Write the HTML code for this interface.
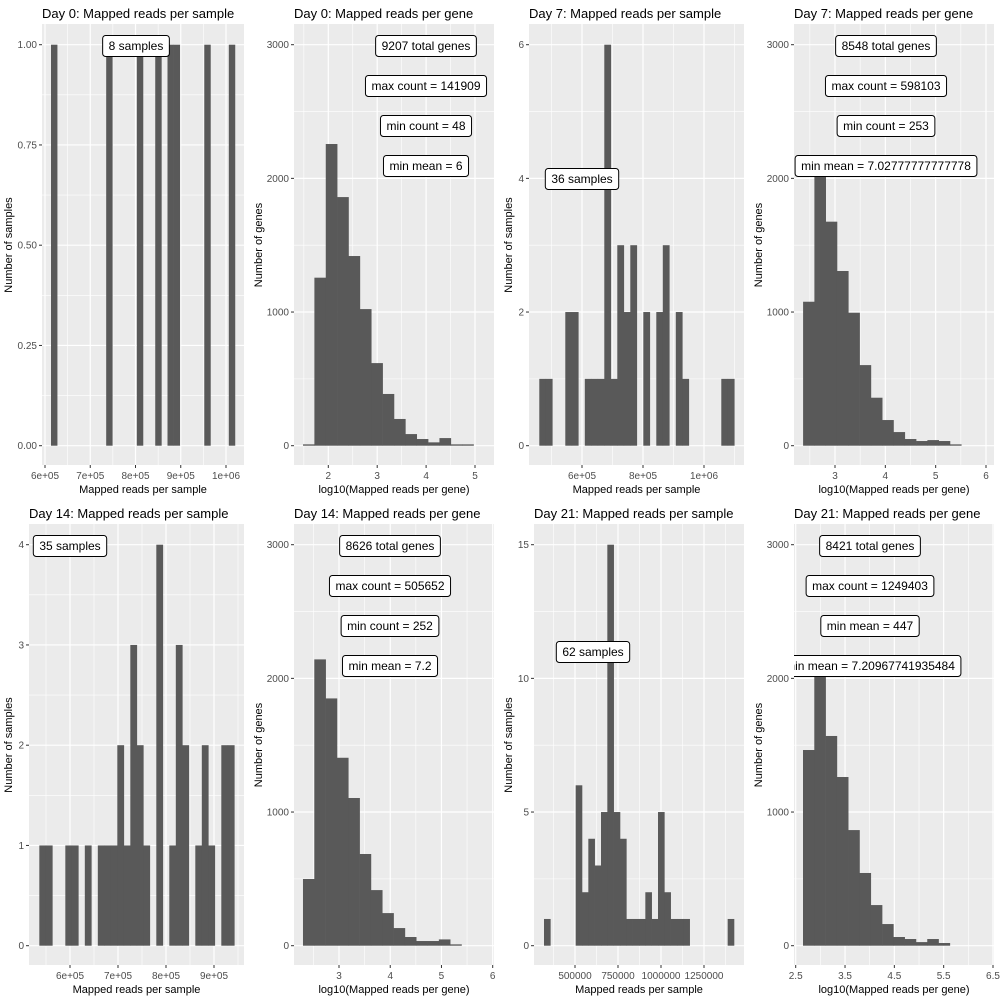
<!DOCTYPE html>
<html><head><meta charset="utf-8">
<style>
html,body{margin:0;padding:0;background:#fff;width:1000px;height:1000px;overflow:hidden;}
svg{display:block;font-family:"Liberation Sans",Arial,sans-serif;}
</style></head>
<body>
<svg id="chart" width="1000" height="1000" viewBox="0 0 1000 1000" xmlns="http://www.w3.org/2000/svg"></svg>
<script>
// ---- data ----
const d0SampleCounts = [1,0,0,0,0,0,0,0,0,1,0,0,0,0,1,0,0,1,0,1,1,0,0,0,0,1,0,0,0,1];
const d0GeneCounts = [10,1257,2257,1860,1419,1022,618,387,200,87,50,25,57,10,10];
const d7SampleCounts = [1,1,0,0,2,2,0,1,1,1,6,1,3,2,3,0,2,0,2,3,0,2,1,0,0,0,0,0,1,1];
const d7GeneCounts = [1077,2120,1676,1307,995,603,359,192,102,50,35,42,35,10];
const d14SampleCounts = [1,1,0,0,1,1,0,1,0,1,1,1,2,1,3,2,1,0,4,0,1,3,2,0,1,2,1,0,2,2];
const d14GeneCounts = [499,2142,1850,1406,1105,686,416,244,132,65,35,35,47,10];
const d21SampleCounts = [1,0,0,0,0,6,2,4,3,5,15,5,4,1,1,1,2,1,5,2,1,1,1,0,0,0,0,0,0,1];
const d21GeneCounts = [1464,2100,1569,1262,865,544,304,162,65,50,27,50,20];
const sampleXTicks1 = [600000,700000,800000,900000,1000000];
const sampleXLabels1 = ["6e+05","7e+05","8e+05","9e+05","1e+06"];
const sampleXTicks3 = [600000,800000,1000000];
const sampleXLabels3 = ["6e+05","8e+05","1e+06"];
const sampleXTicks5 = [600000,700000,800000,900000];
const sampleXLabels5 = ["6e+05","7e+05","8e+05","9e+05"];
const sampleXTicks7 = [500000,750000,1000000,1250000];
const sampleXLabels7 = ["500000","750000","1000000","1250000"];
const geneXTicks2 = [2,3,4,5];
const geneXTicks46 = [3,4,5,6];
const geneXTicks8 = [2.5,3.5,4.5,5.5,6.5];
const geneYTicks = [0,1000,2000,3000];
const d0YTicks = [0,0.25,0.5,0.75,1];
const d0YLabels = ["0.00","0.25","0.50","0.75","1.00"];
const d7YTicks = [0,2,4,6];
const d14YTicks = [0,1,2,3,4];
const d21YTicks = [0,5,10,15];
const d0Labels = ["8 samples"];
const d0GeneLabels = ["9207 total genes","max count = 141909","min count = 48","min mean = 6"];
const d7Labels = ["36 samples"];
const d7GeneLabels = ["8548 total genes","max count = 598103","min count = 253","min mean = 7.02777777777778"];
const d14Labels = ["35 samples"];
const d14GeneLabels = ["8626 total genes","max count = 505652","min count = 252","min mean = 7.2"];
const d21Labels = ["62 samples"];
const d21GeneLabels = ["8421 total genes","max count = 1249403","min mean = 447","min mean = 7.20967741935484"];

const NS = "http://www.w3.org/2000/svg";
const svg = document.getElementById('chart');
function mk(tag, attrs, parent){ const e=document.createElementNS(NS,tag); for(const k in attrs) e.setAttribute(k,attrs[k]); (parent||svg).appendChild(e); return e; }

const panels = [
 {id:'d0-sample',title:'Day 0: Mapped reads per sample',oy:0,l:42,r:244,tx:42,yt:12,xa:[600000,45],xb:[1000000,226],ya:[0,445.7],yb:[1,44.7],start:613260,bw:13550,counts:d0SampleCounts,xt:sampleXTicks1,xl:sampleXLabels1,ytk:d0YTicks,yl:d0YLabels,xtitle:'Mapped reads per sample',ytitle:'Number of samples',labels:d0Labels,lx:136,ly:[46]},
 {id:'d0-gene',title:'Day 0: Mapped reads per gene',oy:0,l:294,r:494,tx:294,yt:262,xa:[2,328.3],xb:[5,475],ya:[0,445.7],yb:[3000,44.7],start:1.483,bw:0.2325,counts:d0GeneCounts,xt:geneXTicks2,xl:geneXTicks2.map(String),ytk:geneYTicks,yl:geneYTicks.map(String),xtitle:'log10(Mapped reads per gene)',ytitle:'Number of genes',labels:d0GeneLabels,lx:426,ly:[46,86,126,166]},
 {id:'d7-sample',title:'Day 7: Mapped reads per sample',oy:0,l:529,r:744,tx:529,yt:512,xa:[600000,582],xb:[1000000,704],ya:[0,445.7],yb:[6,44.7],start:460000,bw:21311,counts:d7SampleCounts,xt:sampleXTicks3,xl:sampleXLabels3,ytk:d7YTicks,yl:d7YTicks.map(String),xtitle:'Mapped reads per sample',ytitle:'Number of samples',labels:d7Labels,lx:582,ly:[179]},
 {id:'d7-gene',title:'Day 7: Mapped reads per gene',oy:0,l:794,r:994,tx:794,yt:762,xa:[3,835],xb:[6,986],ya:[0,445.7],yb:[3000,44.7],start:2.366,bw:0.2245,counts:d7GeneCounts,xt:geneXTicks46,xl:geneXTicks46.map(String),ytk:geneYTicks,yl:geneYTicks.map(String),xtitle:'log10(Mapped reads per gene)',ytitle:'Number of genes',labels:d7GeneLabels,lx:886,ly:[46,86,126,166]},
 {id:'d14-sample',title:'Day 14: Mapped reads per sample',oy:500,l:29,r:244,tx:29,yt:12,xa:[600000,70],xb:[900000,214],ya:[0,445.7],yb:[4,44.7],start:536100,bw:13540,counts:d14SampleCounts,xt:sampleXTicks5,xl:sampleXLabels5,ytk:d14YTicks,yl:d14YTicks.map(String),xtitle:'Mapped reads per sample',ytitle:'Number of samples',labels:d14Labels,lx:70,ly:[46]},
 {id:'d14-gene',title:'Day 14: Mapped reads per gene',oy:500,l:294,r:494,tx:294,yt:262,xa:[3,339],xb:[6,492.7],ya:[0,445.7],yb:[3000,44.7],start:2.297,bw:0.221,counts:d14GeneCounts,xt:geneXTicks46,xl:geneXTicks46.map(String),ytk:geneYTicks,yl:geneYTicks.map(String),xtitle:'log10(Mapped reads per gene)',ytitle:'Number of genes',labels:d14GeneLabels,lx:390,ly:[46,86,126,166]},
 {id:'d21-sample',title:'Day 21: Mapped reads per sample',oy:500,l:534,r:744,tx:534,yt:512,xa:[500000,575],xb:[1250000,704],ya:[0,445.7],yb:[15,44.7],start:319767,bw:36822,counts:d21SampleCounts,xt:sampleXTicks7,xl:sampleXLabels7,ytk:d21YTicks,yl:d21YTicks.map(String),xtitle:'Mapped reads per sample',ytitle:'Number of samples',labels:d21Labels,lx:593,ly:[152]},
 {id:'d21-gene',title:'Day 21: Mapped reads per gene',oy:500,l:794,r:994,tx:794,yt:762,xa:[2.5,795.7],xb:[6.5,993],ya:[0,445.7],yb:[3000,44.7],start:2.648,bw:0.229,counts:d21GeneCounts,xt:geneXTicks8,xl:geneXTicks8.map(String),ytk:geneYTicks,yl:geneYTicks.map(String),xtitle:'log10(Mapped reads per gene)',ytitle:'Number of genes',labels:d21GeneLabels,lx:870,ly:[46,86,126,166]}
];

panels.forEach((p,pi)=>{
  const g = mk('g',{});
  
  
  const top = p.oy+24, bot = p.oy+465;
  const xs = v => p.xa[1] + (v-p.xa[0])*(p.xb[1]-p.xa[1])/(p.xb[0]-p.xa[0]);
  const ys = v => p.oy + p.ya[1] + (v-p.ya[0])*(p.yb[1]-p.ya[1])/(p.yb[0]-p.ya[0]);
  const cp = mk('clipPath',{id:'clip'+pi},g);
  mk('rect',{x:p.l,y:top,width:p.r-p.l,height:bot-top},cp);
  const bg = mk('rect',{x:p.l,y:top,width:p.r-p.l,height:bot-top,fill:'#EBEBEB'},g);
  
  
  const xstep = p.xt[1]-p.xt[0], ystep = p.ytk[1]-p.ytk[0];
  const gg = mk('g',{'clip-path':'url(#clip'+pi+')'},g);
  for(let v=p.xt[0]-xstep*3; v<=p.xt[p.xt.length-1]+xstep*3; v+=xstep){
    const xm = xs(v+xstep/2); mk('line',{x1:xm,x2:xm,y1:top,y2:bot,stroke:'#fff','stroke-width':0.6},gg);
    const x = xs(v); mk('line',{x1:x,x2:x,y1:top,y2:bot,stroke:'#fff','stroke-width':1.2},gg);
  }
  for(let v=p.ytk[0]-ystep*3; v<=p.ytk[p.ytk.length-1]+ystep*3; v+=ystep){
    const ym = ys(v+ystep/2); mk('line',{x1:p.l,x2:p.r,y1:ym,y2:ym,stroke:'#fff','stroke-width':0.6},gg);
    const y = ys(v); mk('line',{x1:p.l,x2:p.r,y1:y,y2:y,stroke:'#fff','stroke-width':1.2},gg);
  }
  p.counts.forEach((c,i)=>{
    if(c<=0) return;
    const x0 = xs(p.start+i*p.bw), x1 = xs(p.start+(i+1)*p.bw);
    const y0 = ys(0), y1 = ys(c);
    const b = mk('rect',{x:x0,y:y1,width:x1-x0+0.3,height:y0-y1,fill:'#595959'},g);
    
    
  });
  const lg = mk('g',{'clip-path':'url(#clip'+pi+')'},g);
  p.labels.forEach((t,i)=>{
    const cy = p.oy+p.ly[i];
    const txt = mk('text',{x:p.lx,y:cy+4,'text-anchor':'middle','font-size':12,fill:'#000'},lg);
    txt.textContent = t;
    const w = txt.getComputedTextLength()+12;
    const box = mk('rect',{x:p.lx-w/2,y:cy-10.5,width:w,height:21,rx:3,ry:3,fill:'#fff',stroke:'#000','stroke-width':1},lg);
    lg.insertBefore(box, txt);
    
    
    
    
  });
  p.xt.forEach((v,i)=>{
    const x = xs(v);
    mk('line',{x1:x,x2:x,y1:bot,y2:bot+3,stroke:'#333','stroke-width':1},g);
    const t = mk('text',{x:x,y:bot+14,'text-anchor':'middle','font-size':10,fill:'#4D4D4D'},g);
    t.textContent = p.xl[i];
    
    
  });
  p.ytk.forEach((v,i)=>{
    const y = ys(v);
    mk('line',{x1:p.l-3,x2:p.l,y1:y,y2:y,stroke:'#333','stroke-width':1},g);
    const t = mk('text',{x:p.l-5,y:y+3.5,'text-anchor':'end','font-size':10,fill:'#4D4D4D'},g);
    t.textContent = p.yl[i];
    
    
  });
  const tt = mk('text',{x:p.tx,y:p.oy+18,'font-size':13,fill:'#000'},g);
  tt.textContent = p.title;
  
  
  const xt = mk('text',{x:(p.l+p.r)/2,y:p.oy+493,'text-anchor':'middle','font-size':11,fill:'#000'},g);
  xt.textContent = p.xtitle;
  
  
  const yc = p.oy+245;
  const yt = mk('text',{x:p.yt,y:yc,'text-anchor':'middle','font-size':11,fill:'#000',transform:'rotate(-90 '+(p.yt)+' '+yc+')'},g);
  yt.textContent = p.ytitle;
  
  
});
</script>
</body></html>
